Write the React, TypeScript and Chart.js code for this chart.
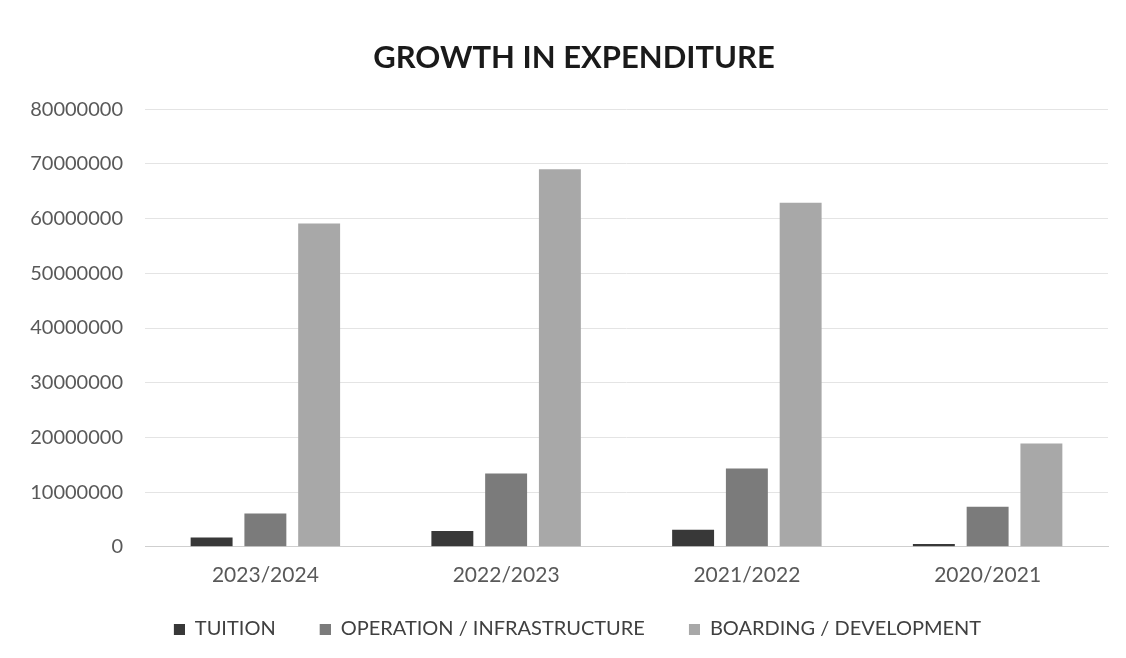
import React, { useEffect, useRef } from "react";
import { Chart, registerables } from "chart.js";

Chart.register(...registerables);

const categories = ["2023/2024", "2022/2023", "2021/2022", "2020/2021"];
const tuition = [1700000, 2900000, 3100000, 500000];
const operation = [6100000, 13400000, 14300000, 7300000];
const boarding = [59100000, 69000000, 62900000, 18900000];
const seriesNames = ["TUITION", "OPERATION / INFRASTRUCTURE", "BOARDING / DEVELOPMENT"];
const seriesColors = ["#383838", "#7b7b7b", "#a8a8a8"];

const LEGEND_LEAD = 29;
const LEGEND_BOX = 11;

function legendMarker(color: string): HTMLCanvasElement {
  const c = document.createElement("canvas");
  c.width = LEGEND_LEAD + LEGEND_BOX;
  c.height = LEGEND_BOX;
  const g = c.getContext("2d")!;
  g.fillStyle = color;
  g.fillRect(LEGEND_LEAD, 0, LEGEND_BOX, LEGEND_BOX);
  return c;
}

const shiftBlocks = {
  id: "shiftBlocks",
  afterLayout(c: any) {
    if (c.titleBlock) {
      c.titleBlock.left += 9;
      c.titleBlock.right += 9;
    }
    if (c.legend) {
      c.legend.left -= 2;
      c.legend.right -= 2;
    }
  },
};

export default function App() {
  const ref = useRef<HTMLCanvasElement | null>(null);
  useEffect(() => {
    document.body.style.margin = "0";
    document.body.style.overflow = "hidden";
    const ctx = ref.current!;
    const chart = new Chart(ctx, {
      type: "bar",
      data: {
        labels: categories,
        datasets: [tuition, operation, boarding].map((d, i) => ({
          label: seriesNames[i],
          data: d,
          backgroundColor: seriesColors[i],
          categoryPercentage: 0.67,
          barPercentage: 0.78,
        })),
      },
      plugins: [shiftBlocks],
      options: {
        animation: false,
        responsive: false,
        maintainAspectRatio: false,
        layout: { padding: { left: 22, right: 18, top: 0, bottom: 9 } },
        plugins: {
          title: {
            display: true,
            text: "GROWTH IN EXPENDITURE",
            color: "#1a1a1a",
            font: { family: "Lato", size: 31, weight: "bold" },
            padding: { top: 39, bottom: 33 },
          },
          legend: {
            position: "bottom",
            labels: {
              color: "#404040",
              font: { family: "Lato", size: 20 },
              boxWidth: LEGEND_BOX,
              boxHeight: LEGEND_BOX,
              usePointStyle: true,
              pointStyleWidth: LEGEND_LEAD + LEGEND_BOX,
              padding: 15,
              generateLabels: (c: any) => {
                const items = Chart.defaults.plugins.legend.labels.generateLabels(c);
                return items.map((it: any, i: number) => ({
                  ...it,
                  pointStyle: legendMarker(seriesColors[i]),
                }));
              },
            },
          },
          tooltip: { enabled: false },
        },
        scales: {
          x: {
            grid: { display: false, drawTicks: false },
            border: { display: true, color: "#cfcfcf" },
            ticks: { color: "#595959", font: { family: "Lato", size: 21 }, padding: 16 },
          },
          y: {
            min: 0,
            max: 80000000,
            grid: { color: "#e4e4e4", drawTicks: false },
            border: { display: false },
            ticks: {
              stepSize: 10000000,
              color: "#595959",
              font: { family: "Lato", size: 20 },
              padding: 22,
              callback: (v: any) => String(v),
            },
            afterFit: (scale: any) => {
              scale.width = 123;
            },
          },
        },
      },
    });
    return () => chart.destroy();
  }, []);
  return (
    <div style={{ width: 1126, height: 658, overflow: "hidden", background: "#fff" }}>
      <canvas ref={ref} width={1126} height={658} />
    </div>
  );
}
